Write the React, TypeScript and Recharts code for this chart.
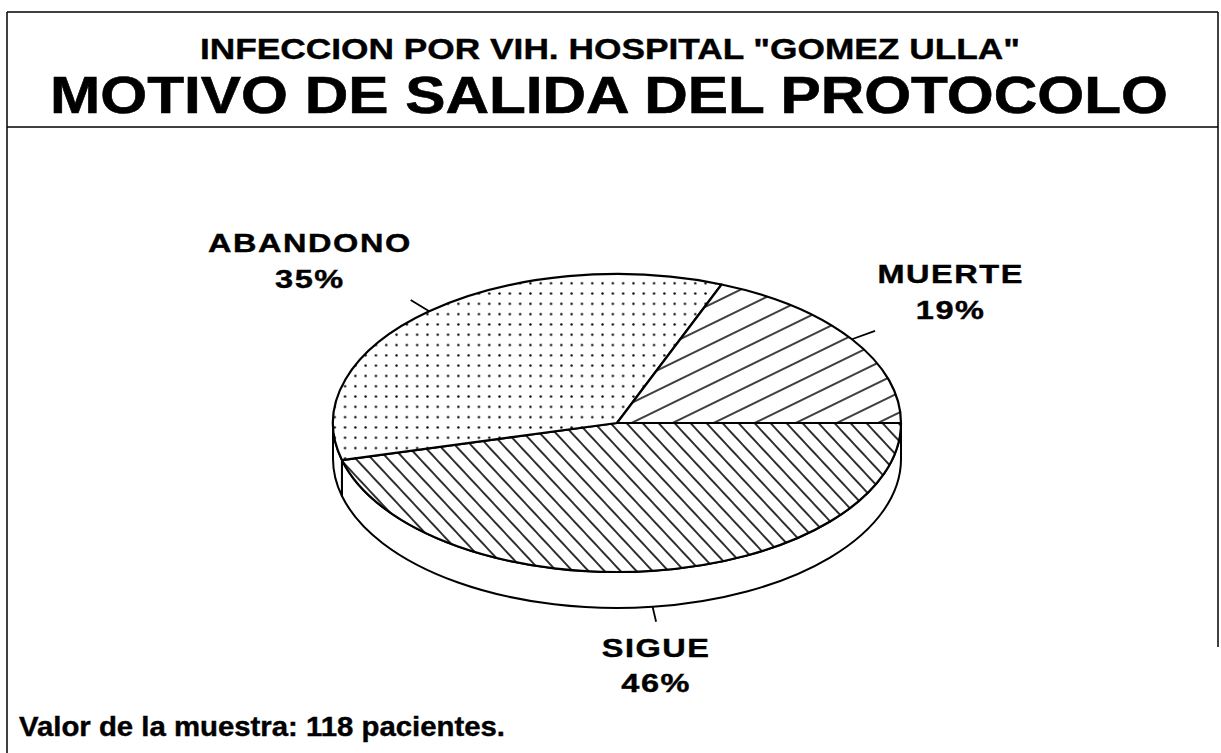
import React from 'react';
import { Pie, PieChart } from 'recharts';

// motivo de salida del protocolo, 118 pacientes
const categories = ['SIGUE', 'ABANDONO', 'MUERTE'];
const shares = [46, 35, 19];
const fills = ['url(#hatch-back)', 'url(#dots)', 'url(#hatch-fwd)'];

const data = categories.map((name, i) => ({ name, value: shares[i], fill: fills[i] }));

const RAD = Math.PI / 180;
const Y_RATIO = 149 / 284; // pie is drawn as a flattened ellipse
const DEPTH = 36;
const FONT = '"Liberation Sans", Arial, Helvetica, sans-serif';

function ellipsePoint(cx: number, cy: number, rx: number, ry: number, a: number) {
  return [cx + rx * Math.cos(a * RAD), cy - ry * Math.sin(a * RAD)];
}

function EllipseSlice(props: any) {
  const { cx, cy, outerRadius, startAngle, endAngle, fill } = props;
  const rx = outerRadius;
  const ry = outerRadius * Y_RATIO;
  const hi = Math.max(startAngle, endAngle);
  const lo = Math.min(startAngle, endAngle);
  const [x1, y1] = ellipsePoint(cx, cy, rx, ry, hi);
  const [x2, y2] = ellipsePoint(cx, cy, rx, ry, lo);
  const large = hi - lo > 180 ? 1 : 0;
  const top = `M${cx},${cy} L${x1},${y1} A${rx},${ry} 0 ${large} 1 ${x2},${y2} Z`;

  // side wall, only where the slice faces the viewer (lower half)
  const walls: string[] = [];
  for (const k of [-1, 0, 1]) {
    const a0 = Math.min(hi, 360 * k);
    const a1 = Math.max(lo, -180 + 360 * k);
    if (a0 > a1) {
      const [wx0, wy0] = ellipsePoint(cx, cy, rx, ry, a0);
      const [wx1, wy1] = ellipsePoint(cx, cy, rx, ry, a1);
      walls.push(
        `M${wx0},${wy0} A${rx},${ry} 0 0 1 ${wx1},${wy1} L${wx1},${wy1 + DEPTH} A${rx},${ry} 0 0 0 ${wx0},${wy0 + DEPTH} Z`
      );
    }
  }

  return (
    <g>
      {walls.map((d, i) => (
        <path key={i} d={d} fill="#fff" stroke="#000" strokeWidth={2} strokeLinejoin="round" />
      ))}
      <path d={top} fill={fill} stroke="#000" strokeWidth={2.2} strokeLinejoin="round" />
    </g>
  );
}

function SliceLabel(props: any) {
  const { cx, cy, outerRadius, midAngle, name, value } = props;
  const rx = outerRadius;
  const ry = outerRadius * Y_RATIO;
  const c = Math.cos(midAngle * RAD);
  const s = Math.sin(midAngle * RAD);
  const drop = s < 0 ? DEPTH : 0;
  const x0 = cx + rx * c;
  const y0 = cy - ry * s + drop;
  const x1 = cx + (rx + 28) * c;
  const y1 = cy - (ry + 15) * s + drop;

  let tx = x1;
  let b1 = y1 + 35;
  let b2 = y1 + 70;
  if (s > -0.6) {
    const half = String(name).length * 12.6;
    tx = c < 0 ? x1 - half : x1 + half;
    b1 = y1 - 48;
    b2 = y1 - 12;
  }

  const textStyle = {
    fontFamily: FONT,
    fontWeight: 700,
    fontSize: 25,
    fill: '#000',
    stroke: '#000',
    strokeWidth: 0.4,
  };

  return (
    <g>
      <line x1={x0} y1={y0} x2={x1} y2={y1} stroke="#000" strokeWidth={1.8} />
      <text
        transform={`translate(${tx},${b1}) scale(1.3,1)`}
        textAnchor="middle"
        letterSpacing={1.2}
        style={textStyle}
      >
        {name}
      </text>
      <text
        transform={`translate(${tx},${b2}) scale(1.3,1)`}
        textAnchor="middle"
        letterSpacing={1.2}
        style={textStyle}
      >
        {`${value}%`}
      </text>
    </g>
  );
}

export default function App() {
  return (
    <div style={{ position: 'absolute', left: 0, top: 0, width: 1221, height: 753, background: '#fff' }}>
      <svg width={1221} height={753} style={{ position: 'absolute', left: 0, top: 0 }}>
        <defs>
          <pattern id="hatch-back" patternUnits="userSpaceOnUse" width={11.7} height={20} patternTransform="rotate(-43)">
            <rect width={11.7} height={20} fill="#fff" />
            <line x1={5.85} y1={0} x2={5.85} y2={20} stroke="#000" strokeWidth={1.6} />
          </pattern>
          <pattern id="hatch-fwd" patternUnits="userSpaceOnUse" width={18} height={20} patternTransform="rotate(64)">
            <rect width={18} height={20} fill="#fff" />
            <line x1={9} y1={0} x2={9} y2={20} stroke="#000" strokeWidth={1.5} />
          </pattern>
          <pattern id="dots" patternUnits="userSpaceOnUse" width={10.3} height={10.3}>
            <rect width={10.3} height={10.3} fill="#fff" />
            <circle cx={5.15} cy={5.15} r={1.2} fill="#000" />
          </pattern>
        </defs>

        <line x1={7} y1={12} x2={1218} y2={12} stroke="#000" strokeWidth={1.5} />
        <line x1={7} y1={12} x2={7} y2={753} stroke="#000" strokeWidth={1.5} />
        <line x1={1218} y1={12} x2={1218} y2={647} stroke="#000" strokeWidth={1.5} />
        <line x1={7} y1={127} x2={1218} y2={127} stroke="#000" strokeWidth={1.5} />

        <text
          x={200}
          y={59}
          textLength={820}
          lengthAdjust="spacingAndGlyphs"
          style={{ fontFamily: FONT, fontWeight: 700, fontSize: 30, fill: '#000', stroke: '#000', strokeWidth: 0.4 }}
        >
          INFECCION POR VIH. HOSPITAL "GOMEZ ULLA"
        </text>
        <text
          x={50}
          y={113}
          textLength={1118}
          lengthAdjust="spacingAndGlyphs"
          style={{ fontFamily: FONT, fontWeight: 700, fontSize: 51, fill: '#000', stroke: '#000', strokeWidth: 0.6 }}
        >
          MOTIVO DE SALIDA DEL PROTOCOLO
        </text>
        <text
          x={19}
          y={736}
          textLength={486}
          lengthAdjust="spacingAndGlyphs"
          style={{ fontFamily: FONT, fontWeight: 700, fontSize: 27, fill: '#000', stroke: '#000', strokeWidth: 0.4 }}
        >
          Valor de la muestra: 118 pacientes.
        </text>
      </svg>

      <div style={{ position: 'absolute', left: 0, top: 0 }}>
        <PieChart width={1221} height={753} margin={{ top: 0, right: 0, bottom: 0, left: 0 }}>
          <Pie
            data={data}
            dataKey="value"
            nameKey="name"
            cx={617}
            cy={423}
            innerRadius={0}
            outerRadius={284}
            startAngle={0}
            endAngle={-360}
            stroke="none"
            shape={EllipseSlice}
            activeShape={EllipseSlice}
            inactiveShape={EllipseSlice}
            label={SliceLabel}
            labelLine={false}
            isAnimationActive={false}
          />
        </PieChart>
      </div>
    </div>
  );
}
